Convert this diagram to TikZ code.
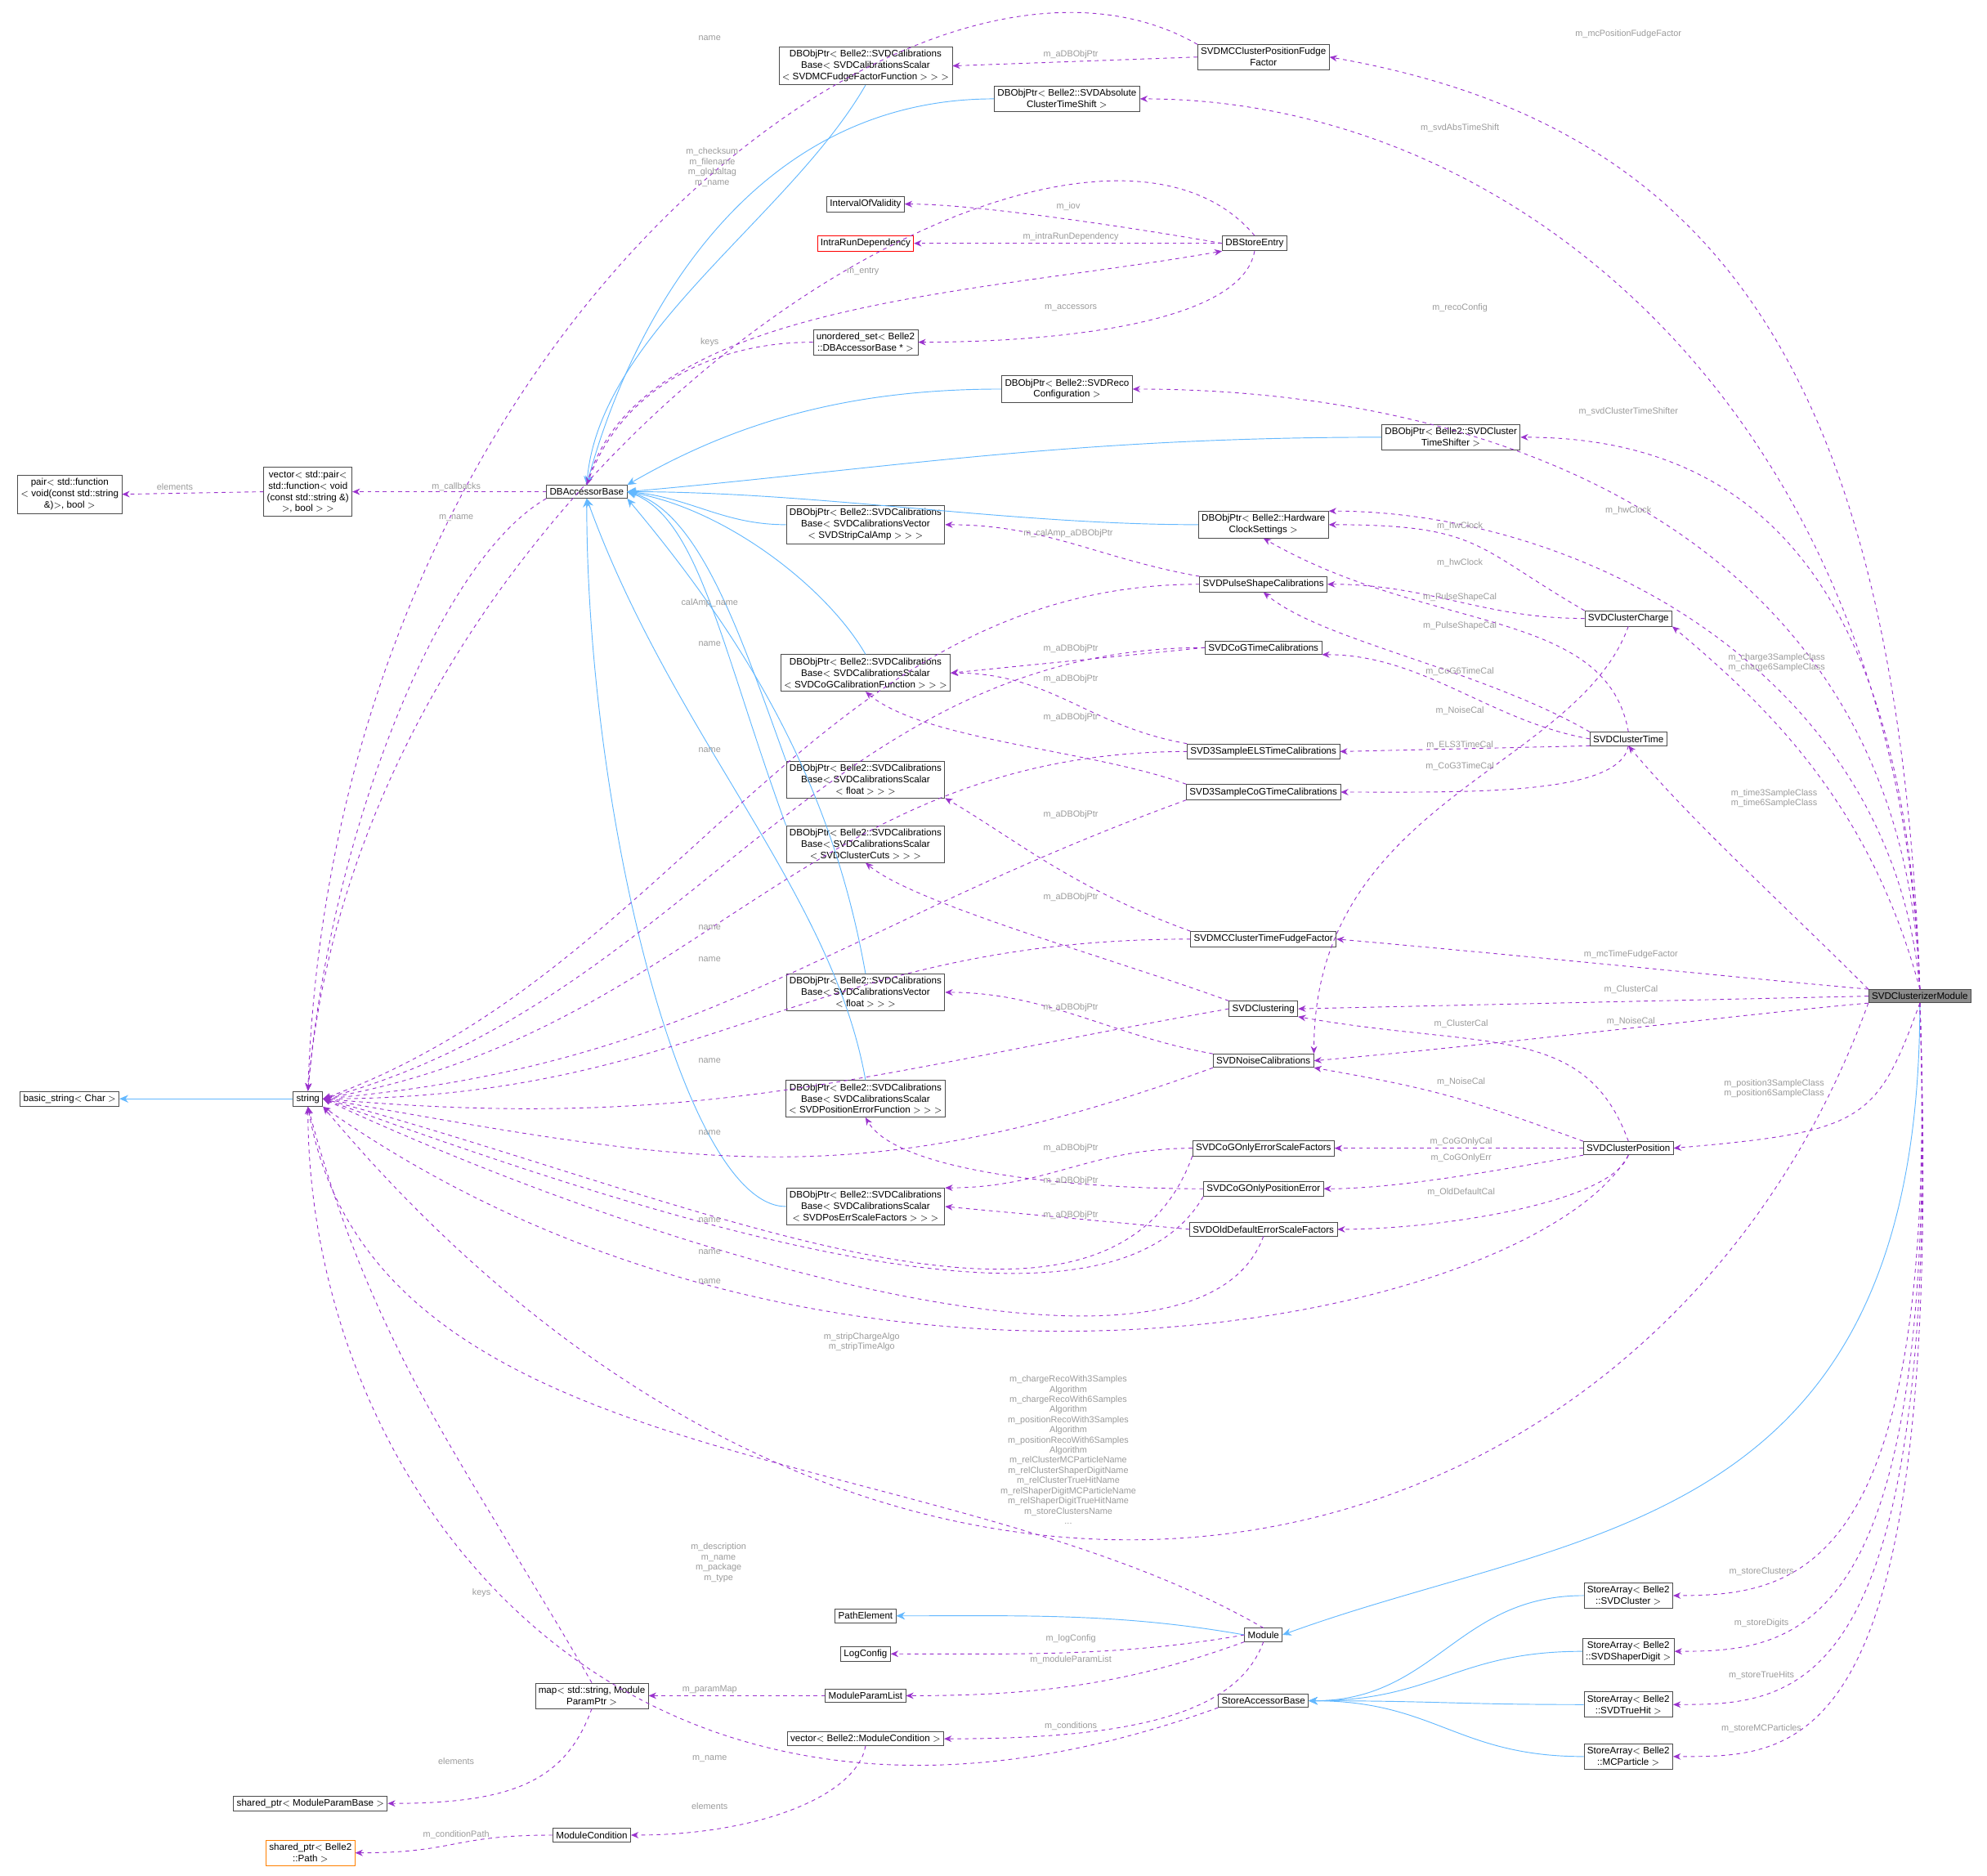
\documentclass[tikz,border=0pt]{standalone}
\usepackage{fontspec}
\setmainfont{Liberation Sans}
\usetikzlibrary{arrows.meta}
\definecolor{usecol}{HTML}{9A32CD}
\definecolor{inhcol}{HTML}{63B8FF}
\definecolor{lblcol}{HTML}{9A9A9A}
\tikzset{
  cls/.style={draw=black!70, fill=white, line width=0.5pt, inner sep=2.5pt, align=center, font=\fontsize{7.5}{9}\selectfont},
  uses/.style={usecol, dashed, line width=0.6pt, -{Stealth[length=6pt,width=5pt]}},
  isa/.style={inhcol, line width=0.6pt, -{Stealth[length=7pt,width=6pt]}},
  lbl/.style={lblcol, align=center, inner sep=0pt, font=\fontsize{7}{8}\selectfont}
}
\begin{document}
\begin{tikzpicture}[x=1pt,y=1pt]
\useasboundingbox (0,0) rectangle (1568,-1480);
% classes
\node[cls, fill=black!45] (cm) at (1515,-786) {SVDClusterizerModule};
\node[cls] (str) at (243,-867) {string};
\node[cls] (bstr) at (55,-867) {basic\_string$<$ Char $>$};
\node[cls] (pr) at (55,-390) {pair$<$ std::function\\$<$ void(const std::string\\\&)$>$, bool $>$};
\node[cls] (vp) at (243,-388) {vector$<$ std::pair$<$\\ std::function$<$ void\\(const std::string \&)\\$>$, bool $>$ $>$};
\node[cls] (dba) at (463,-388) {DBAccessorBase};
\node[cls] (fudge) at (683,-52) {DBObjPtr$<$ Belle2::SVDCalibrations\\Base$<$ SVDCalibrationsScalar\\$<$ SVDMCFudgeFactorFunction $>$ $>$ $>$};
\node[cls] (mcpf) at (997,-45) {SVDMCClusterPositionFudge\\Factor};
\node[cls] (abst) at (842,-78) {DBObjPtr$<$ Belle2::SVDAbsolute\\ClusterTimeShift $>$};
\node[cls] (iov) at (683,-161) {IntervalOfValidity};
\node[cls, draw=red] (ird) at (683,-192) {IntraRunDependency};
\node[cls] (dse) at (990,-192) {DBStoreEntry};
\node[cls] (us) at (683,-270) {unordered\_set$<$ Belle2\\::DBAccessorBase * $>$};
\node[cls] (reco) at (842,-307) {DBObjPtr$<$ Belle2::SVDReco\\Configuration $>$};
\node[cls] (tsh) at (1145,-345) {DBObjPtr$<$ Belle2::SVDCluster\\TimeShifter $>$};
\node[cls] (hw) at (997,-414) {DBObjPtr$<$ Belle2::Hardware\\ClockSettings $>$};
\node[cls] (amp) at (683,-414) {DBObjPtr$<$ Belle2::SVDCalibrations\\Base$<$ SVDCalibrationsVector\\$<$ SVDStripCalAmp $>$ $>$ $>$};
\node[cls] (psc) at (997,-461) {SVDPulseShapeCalibrations};
\node[cls] (chg) at (1285,-488) {SVDClusterCharge};
\node[cls] (cogt) at (997,-511) {SVDCoGTimeCalibrations};
\node[cls] (cogf) at (683,-531) {DBObjPtr$<$ Belle2::SVDCalibrations\\Base$<$ SVDCalibrationsScalar\\$<$ SVDCoGCalibrationFunction $>$ $>$ $>$};
\node[cls] (els) at (997,-593) {SVD3SampleELSTimeCalibrations};
\node[cls] (ctime) at (1285,-583) {SVDClusterTime};
\node[cls] (fsc) at (683,-615) {DBObjPtr$<$ Belle2::SVDCalibrations\\Base$<$ SVDCalibrationsScalar\\$<$ float $>$ $>$ $>$};
\node[cls] (cog3) at (997,-625) {SVD3SampleCoGTimeCalibrations};
\node[cls] (cuts) at (683,-666) {DBObjPtr$<$ Belle2::SVDCalibrations\\Base$<$ SVDCalibrationsScalar\\$<$ SVDClusterCuts $>$ $>$ $>$};
\node[cls] (mctf) at (997,-741) {SVDMCClusterTimeFudgeFactor};
\node[cls] (fvec) at (683,-783) {DBObjPtr$<$ Belle2::SVDCalibrations\\Base$<$ SVDCalibrationsVector\\$<$ float $>$ $>$ $>$};
\node[cls] (clu) at (997,-796) {SVDClustering};
\node[cls] (noise) at (997,-837) {SVDNoiseCalibrations};
\node[cls] (perr) at (683,-867) {DBObjPtr$<$ Belle2::SVDCalibrations\\Base$<$ SVDCalibrationsScalar\\$<$ SVDPositionErrorFunction $>$ $>$ $>$};
\node[cls] (coes) at (997,-906) {SVDCoGOnlyErrorScaleFactors};
\node[cls] (cpos) at (1285,-906) {SVDClusterPosition};
\node[cls] (cope) at (997,-938) {SVDCoGOnlyPositionError};
\node[cls] (pesf) at (683,-952) {DBObjPtr$<$ Belle2::SVDCalibrations\\Base$<$ SVDCalibrationsScalar\\$<$ SVDPosErrScaleFactors $>$ $>$ $>$};
\node[cls] (olde) at (997,-970) {SVDOldDefaultErrorScaleFactors};
\node[cls] (pe) at (683,-1275) {PathElement};
\node[cls] (mod) at (997,-1290) {Module};
\node[cls] (lc) at (683,-1305) {LogConfig};
\node[cls] (map) at (467,-1338) {map$<$ std::string, Module\\ParamPtr $>$};
\node[cls] (mpl) at (683,-1338) {ModuleParamList};
\node[cls] (vmc) at (683,-1372) {vector$<$ Belle2::ModuleCondition $>$};
\node[cls] (sab) at (997,-1342) {StoreAccessorBase};
\node[cls] (spm) at (245,-1423) {shared\_ptr$<$ ModuleParamBase $>$};
\node[cls] (mc) at (467,-1448) {ModuleCondition};
\node[cls, draw=orange] (spp) at (245,-1462) {shared\_ptr$<$ Belle2\\::Path $>$};
\node[cls] (sa1) at (1285,-1259) {StoreArray$<$ Belle2\\::SVDCluster $>$};
\node[cls] (sa2) at (1285,-1303) {StoreArray$<$ Belle2\\::SVDShaperDigit $>$};
\node[cls] (sa3) at (1285,-1345) {StoreArray$<$ Belle2\\::SVDTrueHit $>$};
\node[cls] (sa4) at (1285,-1386) {StoreArray$<$ Belle2\\::MCParticle $>$};
% inheritance
\draw[isa] (str.west) -- (bstr.east);
\draw[isa] (fudge.south) .. controls +(-120:120) and +(85:120) .. (dba.north);
\draw[isa] (abst.west) .. controls +(180:200) and +(75:120) .. (dba.north);
\draw[isa] (reco.west) .. controls +(180:120) and +(30:100) .. (dba.north east);
\draw[isa] (tsh.west) .. controls +(180:250) and +(5:200) .. (dba.east);
\draw[isa] (hw.west) .. controls +(180:150) and +(0:150) .. (dba.east);
\draw[isa] (amp.west) .. controls +(180:50) and +(-5:50) .. (dba.east);
\draw[isa] (cogf.north) .. controls +(120:60) and +(-10:80) .. (dba.east);
\draw[isa] (fsc.north west) .. controls +(110:100) and +(-15:60) .. (dba.east);
\draw[isa] (cuts.north west) .. controls +(110:150) and +(-20:60) .. (dba.east);
\draw[isa] (fvec.north) .. controls +(100:150) and +(-50:150) .. (dba.south east);
\draw[isa] (perr.north) .. controls +(100:150) and +(-70:200) .. (dba.south);
\draw[isa] (pesf.west) .. controls +(180:80) and +(-90:250) .. (dba.south);
\draw[isa] (cm.south) .. controls +(-90:420) and +(20:250) .. (mod.east);
\draw[isa] (mod.west) .. controls +(170:100) and +(0:100) .. (pe.east);
\foreach \s in {sa1,sa2,sa3,sa4}
  \draw[isa] (\s.west) .. controls +(180:100) and +(0:100) .. (sab.east);
% usage
\draw[uses] (mcpf.west) -- (fudge.east);
\draw[uses] (mcpf.north west) .. controls +(150:250) and +(88:600) .. (str.north);
\draw[uses] (dse.north) .. controls +(130:220) and +(85:500) .. (str.north);
\draw[uses] (dse.west) .. controls +(170:60) and +(0:60) .. (iov.east);
\draw[uses] (dse.west) -- (ird.east);
\draw[uses] (dse.south) .. controls +(-100:60) and +(0:100) .. (us.east);
\draw[uses] (dba.north) .. controls +(75:150) and +(190:200) .. (dse.south west);
\draw[uses] (us.west) .. controls +(180:80) and +(70:80) .. (dba.north);
\draw[uses] (dba.west) -- (vp.east);
\draw[uses] (vp.west) -- (pr.east);
\draw[uses] (dba.south west) .. controls +(210:100) and +(85:200) .. (str.north);
\draw[uses] (psc.west) .. controls +(180:300) and +(20:300) .. (str.east);
\draw[uses] (psc.north west) .. controls +(170:80) and +(0:80) .. (amp.east);
\draw[uses] (cogt.west) .. controls +(180:300) and +(15:300) .. (str.east);
\draw[uses] (cogt.west) -- (cogf.east);
\draw[uses] (els.west) .. controls +(180:300) and +(10:300) .. (str.east);
\draw[uses] (els.north west) .. controls +(170:80) and +(0:80) .. (cogf.east);
\draw[uses] (cog3.south west) .. controls +(200:300) and +(5:300) .. (str.east);
\draw[uses] (cog3.north west) .. controls +(160:80) and +(-40:60) .. (cogf.south);
\draw[uses] (mctf.west) .. controls +(180:300) and +(0:300) .. (str.east);
\draw[uses] (mctf.north west) .. controls +(160:100) and +(-30:60) .. (fsc.south east);
\draw[uses] (clu.west) .. controls +(190:300) and +(-5:300) .. (str.east);
\draw[uses] (clu.north west) .. controls +(160:100) and +(-40:50) .. (cuts.south);
\draw[uses] (noise.north west) .. controls +(170:80) and +(0:80) .. (fvec.east);
\draw[uses] (noise.south west) .. controls +(200:300) and +(-10:300) .. (str.east);
\draw[uses] (coes.west) .. controls +(180:80) and +(0:80) .. (pesf.north east);
\draw[uses] (coes.south west) .. controls +(-110:200) and +(-15:300) .. (str.east);
\draw[uses] (cope.west) .. controls +(180:100) and +(-60:50) .. (perr.south);
\draw[uses] (cope.south west) .. controls +(-120:150) and +(-20:300) .. (str.east);
\draw[uses] (olde.west) -- (pesf.east);
\draw[uses] (olde.south) .. controls +(-110:150) and +(-25:300) .. (str.east);
\draw[uses] (chg.north west) .. controls +(150:100) and +(0:120) .. (hw.east);
\draw[uses] (chg.west) .. controls +(180:80) and +(0:80) .. (psc.east);
\draw[uses] (chg.south) .. controls +(-110:120) and +(90:200) .. (noise.north east);
\draw[uses] (ctime.north) .. controls +(100:100) and +(-30:150) .. (hw.south);
\draw[uses] (ctime.north west) .. controls +(150:100) and +(-40:60) .. (psc.south);
\draw[uses] (ctime.west) .. controls +(170:80) and +(0:80) .. (cogt.south east);
\draw[uses] (ctime.south west) -- (els.east);
\draw[uses] (ctime.south) .. controls +(-100:40) and +(0:100) .. (cog3.east);
\draw[uses] (cpos.north) .. controls +(110:100) and +(-10:150) .. (clu.south east);
\draw[uses] (cpos.north west) .. controls +(160:100) and +(-10:100) .. (noise.south east);
\draw[uses] (cpos.west) -- (coes.east);
\draw[uses] (cpos.south west) .. controls +(190:60) and +(0:60) .. (cope.east);
\draw[uses] (cpos.south) .. controls +(-110:40) and +(0:80) .. (olde.east);
\draw[uses] (cpos.south) .. controls +(-120:150) and +(-35:500) .. (str.south east);
\draw[uses] (cm.north) .. controls +(92:500) and +(-10:300) .. (mcpf.east);
\draw[uses] (cm.north) .. controls +(92:450) and +(0:300) .. (abst.east);
\draw[uses] (cm.north) .. controls +(92:350) and +(0:300) .. (reco.east);
\draw[uses] (cm.north) .. controls +(92:300) and +(0:200) .. (tsh.east);
\draw[uses] (cm.north) .. controls +(95:250) and +(0:200) .. (hw.north east);
\draw[uses] (cm.north) .. controls +(105:150) and +(-40:100) .. (chg.south east);
\draw[uses] (cm.north west) .. controls +(135:100) and +(-50:80) .. (ctime.south);
\draw[uses] (cm.north west) .. controls +(175:100) and +(-5:150) .. (mctf.east);
\draw[uses] (cm.west) -- (clu.east);
\draw[uses] (cm.south west) .. controls +(185:100) and +(5:150) .. (noise.east);
\draw[uses] (cm.south) .. controls +(-110:100) and +(5:150) .. (cpos.east);
\draw[uses] (cm.south west) .. controls +(250:500) and +(-50:700) .. (str.south east);
\draw[uses] (cm.south) .. controls +(-88:450) and +(0:100) .. (sa1.east);
\draw[uses] (cm.south) .. controls +(-88:500) and +(0:100) .. (sa2.east);
\draw[uses] (cm.south) .. controls +(-88:550) and +(0:100) .. (sa3.east);
\draw[uses] (cm.south) .. controls +(-88:600) and +(0:100) .. (sa4.east);
\draw[uses] (mod.north) .. controls +(150:300) and +(-80:300) .. (str.south);
\draw[uses] (mod.west) .. controls +(190:100) and +(0:100) .. (lc.east);
\draw[uses] (mod.south west) .. controls +(200:100) and +(0:100) .. (mpl.east);
\draw[uses] (mod.south) .. controls +(-110:60) and +(0:150) .. (vmc.east);
\draw[uses] (mpl.west) -- (map.east);
\draw[uses] (map.north) .. controls +(120:200) and +(-75:200) .. (str.south);
\draw[uses] (map.south) .. controls +(-110:60) and +(0:100) .. (spm.east);
\draw[uses] (vmc.south) .. controls +(-100:40) and +(0:100) .. (mc.east);
\draw[uses] (mc.west) .. controls +(180:80) and +(0:80) .. (spp.east);
\draw[uses] (sab.south west) .. controls +(200:500) and +(-90:300) .. (str.south);
% labels
\node[lbl] (l1) at (560,-30) {name};
\node[lbl] (l2) at (845,-43) {m\_aDBObjPtr};
\node[lbl] (l3) at (1285,-27) {m\_mcPositionFudgeFactor};
\node[lbl] (l4) at (1152,-101) {m\_svdAbsTimeShift};
\node[lbl] (l5) at (562,-132) {m\_checksum\\m\_filename\\m\_globaltag\\m\_name};
\node[lbl] (l6) at (843,-163) {m\_iov};
\node[lbl] (l7) at (845,-187) {m\_intraRunDependency};
\node[lbl] (l8) at (681,-214) {m\_entry};
\node[lbl] (l9) at (845,-243) {m\_accessors};
\node[lbl] (l10) at (560,-270) {keys};
\node[lbl] (l11) at (1152,-243) {m\_recoConfig};
\node[lbl] (l12) at (1285,-325) {m\_svdClusterTimeShifter};
\node[lbl] (l13) at (138,-384) {elements};
\node[lbl] (l14) at (360,-384) {m\_callbacks};
\node[lbl] (l15) at (360,-409) {m\_name};
\node[lbl] (l16) at (1285,-403) {m\_hwClock};
\node[lbl] (l17) at (1152,-415) {m\_hwClock};
\node[lbl] (l18) at (1152,-444) {m\_hwClock};
\node[lbl] (l19) at (843,-421) {m\_calAmp\_aDBObjPtr};
\node[lbl] (l20) at (1152,-471) {m\_PulseShapeCal};
\node[lbl] (l21) at (1152,-494) {m\_PulseShapeCal};
\node[lbl] (l22) at (560,-476) {calAmp\_name};
\node[lbl] (l23) at (560,-508) {name};
\node[lbl] (l24) at (845,-512) {m\_aDBObjPtr};
\node[lbl] (l25) at (845,-536) {m\_aDBObjPtr};
\node[lbl] (l26) at (1152,-530) {m\_CoG6TimeCal};
\node[lbl] (l27) at (1402,-523) {m\_charge3SampleClass\\m\_charge6SampleClass};
\node[lbl] (l28) at (1152,-561) {m\_NoiseCal};
\node[lbl] (l29) at (845,-566) {m\_aDBObjPtr};
\node[lbl] (l30) at (1152,-588) {m\_ELS3TimeCal};
\node[lbl] (l31) at (1152,-605) {m\_CoG3TimeCal};
\node[lbl] (l32) at (560,-592) {name};
\node[lbl] (l33) at (1400,-630) {m\_time3SampleClass\\m\_time6SampleClass};
\node[lbl] (l34) at (845,-643) {m\_aDBObjPtr};
\node[lbl] (l35) at (845,-708) {m\_aDBObjPtr};
\node[lbl] (l36) at (560,-732) {name};
\node[lbl] (l37) at (560,-757) {name};
\node[lbl] (l38) at (1287,-753) {m\_mcTimeFudgeFactor};
\node[lbl] (l39) at (845,-795) {m\_aDBObjPtr};
\node[lbl] (l40) at (1287,-781) {m\_ClusterCal};
\node[lbl] (l41) at (1153,-808) {m\_ClusterCal};
\node[lbl] (l42) at (1287,-806) {m\_NoiseCal};
\node[lbl] (l43) at (560,-837) {name};
\node[lbl] (l44) at (1153,-854) {m\_NoiseCal};
\node[lbl] (l45) at (560,-894) {name};
\node[lbl] (l46) at (1400,-859) {m\_position3SampleClass\\m\_position6SampleClass};
\node[lbl] (l47) at (845,-906) {m\_aDBObjPtr};
\node[lbl] (l48) at (1153,-901) {m\_CoGOnlyCal};
\node[lbl] (l49) at (1153,-914) {m\_CoGOnlyErr};
\node[lbl] (l50) at (845,-932) {m\_aDBObjPtr};
\node[lbl] (l51) at (845,-959) {m\_aDBObjPtr};
\node[lbl] (l52) at (1153,-941) {m\_OldDefaultCal};
\node[lbl] (l53) at (560,-963) {name};
\node[lbl] (l54) at (560,-988) {name};
\node[lbl] (l55) at (560,-1011) {name};
\node[lbl] (l56) at (680,-1059) {m\_stripChargeAlgo\\m\_stripTimeAlgo};
\node[lbl] (l57) at (843,-1144) {m\_chargeRecoWith3Samples\\Algorithm\\m\_chargeRecoWith6Samples\\Algorithm\\m\_positionRecoWith3Samples\\Algorithm\\m\_positionRecoWith6Samples\\Algorithm\\m\_relClusterMCParticleName\\m\_relClusterShaperDigitName\\m\_relClusterTrueHitName\\m\_relShaperDigitMCParticleName\\m\_relShaperDigitTrueHitName\\m\_storeClustersName\\...};
\node[lbl] (l58) at (567,-1233) {m\_description\\m\_name\\m\_package\\m\_type};
\node[lbl] (l59) at (380,-1257) {keys};
\node[lbl] (l60) at (845,-1293) {m\_logConfig};
\node[lbl] (l61) at (845,-1310) {m\_moduleParamList};
\node[lbl] (l62) at (560,-1333) {m\_paramMap};
\node[lbl] (l63) at (845,-1362) {m\_conditions};
\node[lbl] (l64) at (360,-1390) {elements};
\node[lbl] (l65) at (560,-1388) {m\_name};
\node[lbl] (l66) at (560,-1425) {elements};
\node[lbl] (l67) at (360,-1448) {m\_conditionPath};
\node[lbl] (l68) at (1390,-1240) {m\_storeClusters};
\node[lbl] (l69) at (1390,-1281) {m\_storeDigits};
\node[lbl] (l70) at (1390,-1322) {m\_storeTrueHits};
\node[lbl] (l71) at (1390,-1364) {m\_storeMCParticles};
\end{tikzpicture}
\end{document}
